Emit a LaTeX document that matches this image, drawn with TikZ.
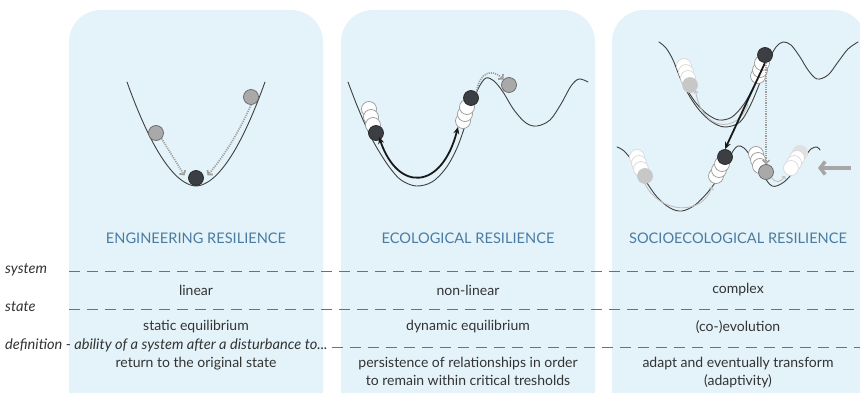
\documentclass[tikz,border=0pt]{standalone}
\usepackage{fontspec}
\setmainfont{Lato}
\usetikzlibrary{arrows.meta}
\definecolor{panel}{HTML}{E3F3F9}
\definecolor{titleblue}{HTML}{4A7CA3}
\definecolor{txt}{HTML}{333333}
\definecolor{dashc}{HTML}{707070}
\definecolor{darkball}{HTML}{3B3E42}
\definecolor{grayball}{HTML}{A9A9A9}
\tikzset{
  ball/.style={circle, inner sep=0pt, minimum size=15pt, line width=0.7pt},
  dball/.style={ball, fill=darkball, draw=black!85},
  gball/.style={ball, fill=grayball, draw=black!60},
  wball/.style={ball, fill=white, draw=black!40},
  fwball/.style={ball, fill=white, draw=black!15},
  fgball/.style={ball, fill=black!22, draw=black!22},
  land/.style={line width=0.9pt, draw=black!75, line cap=round},
  dotarrow/.style={line width=1.7pt, draw=black!38, dash pattern=on 1.1pt off 1.1pt, -{Straight Barb[length=3pt,width=7pt]}},
  blackarrow/.style={line width=1.8pt, draw=black!90},
  fadearrow/.style={line width=0.9pt, draw=black!25, -{Straight Barb[length=2pt,width=4.5pt]}},
  bigarrow/.style={line width=3.5pt, draw=black!35, -{Straight Barb[length=5pt,width=13pt]}},
  paneltitle/.style={font=\fontsize{14.6}{17}\selectfont, text=titleblue},
  cell/.style={font=\fontsize{14}{18}\selectfont, text=txt, align=center},
  rowlabel/.style={font=\fontsize{14.6}{17}\selectfont\itshape, text=txt, anchor=mid west, inner sep=0pt},
  dashline/.style={line width=0.8pt, draw=dashc, dash pattern=on 11pt off 7pt}
}
\begin{document}
\begin{tikzpicture}[x=1pt,y=-1pt]
\useasboundingbox (0,0) rectangle (860,393);
\begin{scope}
\clip (0,0) rectangle (860,393);
\fill[panel, rounded corners=32] (69,440) -- (69,10) -- (323,10) -- (323,440) -- cycle;
\fill[panel, rounded corners=32] (341,440) -- (341,10) -- (595,10) -- (595,440) -- cycle;
\fill[panel, rounded corners=32] (612,440) -- (612,10) -- (866,10) -- (866,440) -- cycle;
\end{scope}

% ---------- Panel 1: engineering
\draw[land] plot[domain=-69:69, samples=61, variable=\t] ({196+\t},{186-104*pow(abs(\t)/69+0.00001,1.85)});
\node[gball] (e1) at (156,133) {};
\node[gball] (e2) at (251,97) {};
\node[dball] (e0) at (196,178) {};
\draw[dotarrow] (e1.south east) -- ([xshift=-6pt,yshift=-3pt]e0.north west);
\draw[dotarrow] (e2.south) .. controls (240,130) and (225,155) .. ([xshift=6pt,yshift=-3pt]e0.north east);

% ---------- Panel 2: ecological
\draw[land] plot[smooth, tension=0.55] coordinates {(348,82) (356,103) (364,122) (372,139) (380,153) (390,168) (401,180) (416,186) (432,182) (446,168) (457,148) (466,123) (473,102) (479,87) (486,78) (494,81) (503,92) (514,110) (526,123) (537,126) (550,120) (561,104) (571,86) (579,79) (588,82)};
\node[wball] at (369,109) {};
\node[wball] at (371,117) {};
\node[wball] at (373,125) {};
\node[dball] (c1) at (376,133) {};
\node[wball] at (463,121) {};
\node[wball] at (465,114) {};
\node[wball] at (467,107) {};
\node[dball] (c2) at (471,98) {};
\node[gball] (c3) at (509,85) {};
\draw[blackarrow, {Stealth[length=7pt,width=6pt]}-{Stealth[length=7pt,width=6pt]}] ([xshift=3pt,yshift=4pt]c1.south) .. controls (398,193) and (442,190) .. (458,127);
\draw[dotarrow] (c2.north east) .. controls (479,72) and (492,68) .. (c3.north west);

% ---------- Panel 3: socioecological
% upper landscape
\draw[land] plot[smooth, tension=0.55] coordinates {(659,42) (666,48) (673,60) (681,80) (690,97) (700,111) (712,122) (725,127) (740,122) (751,104) (761,80) (769,60) (776,47) (783,42) (791,45) (800,57) (808,70) (817,79) (828,75) (838,62) (848,49) (858,42)};
\draw[land] plot[smooth, tension=0.55] coordinates {(686,88) (696,103) (707,114) (719,120) (732,117) (744,104) (753,88) (761,74)};
\node[fwball] at (684,66) {};
\node[fwball] at (686,72) {};
\node[fwball] at (688,78) {};
\node[fgball] (s1) at (690,85) {};
\draw[fadearrow] (748,104) .. controls (738,134) and (702,132) .. (s1.south east);
\node[wball] at (758,76) {};
\node[wball] at (760,70) {};
\node[wball] at (762,63) {};
\node[dball] (s2) at (765,55) {};

% lower landscape
\draw[land] plot[smooth, tension=0.55] coordinates {(617,147) (624,151) (634,163) (645,180) (657,197) (670,208) (682,211) (695,205) (708,192) (719,177) (727,163) (733,151) (738,146) (744,148) (752,158) (761,172) (772,186) (784,182) (795,170) (804,158) (811,149) (817,147) (820,150)};
\node[fwball] at (637,157) {};
\node[fwball] at (639,163) {};
\node[fwball] at (641,169) {};
\node[fgball] (s3) at (645,176) {};
\node[wball] at (716,176) {};
\node[wball] at (719,170) {};
\node[wball] at (722,164) {};
\node[dball] (s4) at (725,157) {};
\node[wball] at (756,154) {};
\node[wball] at (758,160) {};
\node[wball] at (760,166) {};
\node[gball] (s5) at (766,172) {};
\node[fgball, fill=black!12, draw=black!12] at (800,153) {};
\node[fwball] at (797,158) {};
\node[fwball] at (794,163) {};
\node[fwball] (s6) at (791,168) {};
\draw[fadearrow] (s3.south) .. controls (660,214) and (702,216) .. (712,187);
\draw[fadearrow] (s5.south east) .. controls (776,184) and (781,182) .. (785,176);
\draw[blackarrow, -{Stealth[length=7pt,width=6pt]}] (s2.south) -- (s4.north);
\draw[dotarrow, line width=1.4pt] ([xshift=1pt]s2.south) -- (s5.north);
\coordinate (ga) at (851,168);
\coordinate (gb) at (818,168);
\draw[bigarrow] (ga) -- (gb);

% ---------- titles
\node[paneltitle] (t1) at (196,238) {ENGINEERING RESILIENCE};
\node[paneltitle] (t2) at (468,238) {ECOLOGICAL RESILIENCE};
\node[paneltitle] (t3) at (738,238) {SOCIOECOLOGICAL RESILIENCE};

% ---------- rows
\node[rowlabel] (r1) at (5,271) {system};
\node[rowlabel] (r2) at (5,309) {state};
\node[rowlabel] (r3) at (5,347) {definition - ability of a system after a disturbance to...};
\coordinate (d1a) at (69,271); \coordinate (d1b) at (860,271);
\coordinate (d2a) at (69,309); \coordinate (d2b) at (860,309);
\coordinate (d3b) at (860,347);
\draw[dashline] (d1a) -- (d1b);
\draw[dashline] (d2a) -- (d2b);
\draw[dashline] ([xshift=4pt]r3.mid east) -- (d3b);

\node[cell] at (196,290) {linear};
\node[cell] at (468,290) {non-linear};
\node[cell] at (738,290) {complex};
\node[cell] at (196,327) {static equilibrium};
\node[cell] at (468,327) {dynamic equilibrium};
\node[cell] at (738,327) {(co-)evolution};
\node[cell, anchor=north] at (196,354) {return to the original state};
\node[cell, anchor=north] at (468,354) {persistence of relationships in order\\to remain within critical tresholds};
\node[cell, anchor=north] at (738,354) {adapt and eventually transform\\(adaptivity)};
\end{tikzpicture}
\end{document}
